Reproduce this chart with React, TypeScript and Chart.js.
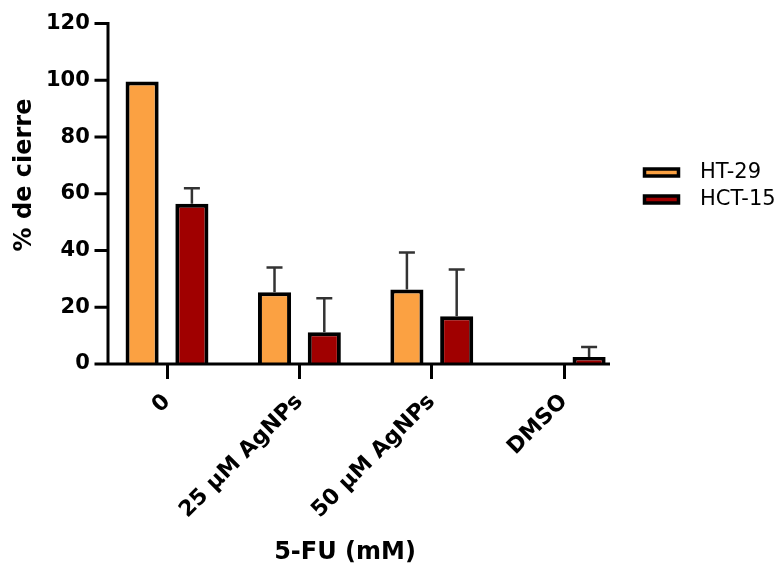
import React, { useEffect, useRef } from 'react';
import { Chart, registerables } from 'chart.js';

Chart.register(...registerables);

const categories = ['0', '25 µM AgNPs', '50 µM AgNPs', 'DMSO'];
const seriesNames = ['HT-29', 'HCT-15'];
const ht29Values = [99.6, 25.3, 26.3, 0];
const hct15Values = [56.5, 11.2, 16.8, 2.5];
const ht29Errors = [0, 8.7, 13.0, 0];
const hct15Errors = [5.5, 12.0, 16.5, 3.5];
const yTickValues = [0, 20, 40, 60, 80, 100, 120];
const yTitle = '% de cierre';
const xTitle = '5-FU (mM)';

const ORANGE = '#FBA142';
const RED = '#A00000';
const FONT = '"DejaVu Sans", "Liberation Sans", Arial, sans-serif';

const errorsBySeries = [ht29Errors, hct15Errors];

const decorPlugin = {
  id: 'decor',
  afterDatasetsDraw(chart: any) {
    const { ctx } = chart;
    const y = chart.scales.y;
    ctx.save();
    ctx.strokeStyle = '#333333';
    ctx.lineWidth = 2.5;
    chart.data.datasets.forEach((ds: any, i: number) => {
      const meta = chart.getDatasetMeta(i);
      meta.data.forEach((bar: any, j: number) => {
        const e = errorsBySeries[i][j];
        if (!e) return;
        const v = ds.data[j];
        const top = y.getPixelForValue(v + e);
        ctx.beginPath();
        ctx.moveTo(bar.x, bar.y);
        ctx.lineTo(bar.x, top);
        ctx.moveTo(bar.x - 8, top);
        ctx.lineTo(bar.x + 8, top);
        ctx.stroke();
      });
    });
    ctx.restore();
  },
  afterDraw(chart: any) {
    const { ctx, chartArea } = chart;
    const y = chart.scales.y;
    const axisX = chartArea.left + 7.2;
    const axisEnd = chartArea.right - 20.4;
    const y0 = y.getPixelForValue(0);
    const yTop = y.getPixelForValue(120);
    ctx.save();
    ctx.strokeStyle = '#000';
    ctx.lineWidth = 3;
    ctx.lineCap = 'butt';
    ctx.beginPath();
    ctx.moveTo(axisX, yTop - 1.5);
    ctx.lineTo(axisX, y0 + 1.5);
    ctx.moveTo(axisX - 1.5, y0);
    ctx.lineTo(axisEnd, y0);
    yTickValues.forEach((t) => {
      const p = y.getPixelForValue(t);
      ctx.moveTo(axisX - 13.5, p);
      ctx.lineTo(axisX, p);
    });
    ctx.stroke();

    // legend
    chart.data.datasets.forEach((ds: any, i: number) => {
      const cy = 172.5 + i * 27;
      ctx.fillStyle = ds.backgroundColor;
      ctx.strokeStyle = '#000';
      ctx.lineWidth = 3.5;
      ctx.beginPath();
      ctx.rect(644.5, cy - 3.5, 34, 7);
      ctx.fill();
      ctx.stroke();
      ctx.fillStyle = '#000';
      ctx.font = `21px ${FONT}`;
      ctx.textAlign = 'left';
      ctx.textBaseline = 'middle';
      ctx.fillText(ds.label, 700, cy);
    });

    // axis titles
    ctx.fillStyle = '#000';
    ctx.font = `bold 24px ${FONT}`;
    ctx.textAlign = 'center';
    ctx.textBaseline = 'middle';
    ctx.fillText(xTitle, 345, 553);
    ctx.translate(25, 175);
    ctx.rotate(-Math.PI / 2);
    ctx.fillText(yTitle, 0, 0);
    ctx.restore();
  },
};

export default function App() {
  const canvasRef = useRef<HTMLCanvasElement | null>(null);

  useEffect(() => {
    document.body.style.margin = '0';
    const canvas = canvasRef.current;
    if (!canvas) return;
    const chart = new Chart(canvas, {
      type: 'bar',
      data: {
        labels: categories,
        datasets: [
          {
            label: seriesNames[0],
            data: ht29Values,
            backgroundColor: ORANGE,
            borderColor: '#000',
            borderWidth: 4,
            borderSkipped: 'start',
            categoryPercentage: 0.752,
            barPercentage: 0.665,
          },
          {
            label: seriesNames[1],
            data: hct15Values,
            backgroundColor: RED,
            borderColor: '#000',
            borderWidth: 4,
            borderSkipped: 'start',
            categoryPercentage: 0.752,
            barPercentage: 0.665,
          },
        ],
      },
      options: {
        responsive: false,
        animation: false,
        layout: { padding: { top: 22.5, right: 152.6, bottom: 0, left: 0 } },
        plugins: {
          legend: { display: false },
          tooltip: { enabled: false },
        },
        scales: {
          x: {
            type: 'category',
            offset: true,
            grid: {
              display: true,
              drawOnChartArea: false,
              drawTicks: true,
              tickLength: 15,
              offset: false,
              color: '#000',
              lineWidth: 3,
            },
            border: { display: false },
            ticks: {
              color: '#000',
              font: { family: FONT, size: 22, weight: 'bold' },
              minRotation: 45,
              maxRotation: 45,
              autoSkip: false,
              padding: 10,
            },
            afterFit: (s: any) => {
              s.height = 205;
            },
          },
          y: {
            min: 0,
            max: 120,
            ticks: {
              stepSize: 20,
              color: '#000',
              font: { family: FONT, size: 21, weight: 'bold' },
              padding: 11,
            },
            grid: { display: false, drawTicks: false },
            border: { display: false },
            afterFit: (s: any) => {
              s.width = 100.8;
            },
          },
        },
      },
      plugins: [decorPlugin],
    });
    return () => chart.destroy();
  }, []);

  return (
    <div style={{ width: 783, height: 569 }}>
      <canvas ref={canvasRef} width={783} height={569} style={{ display: 'block' }} />
    </div>
  );
}
